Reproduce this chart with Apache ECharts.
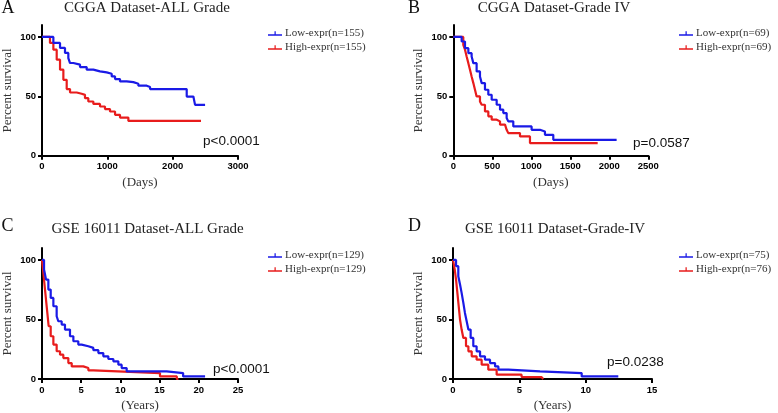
<!DOCTYPE html>
<html><head><meta charset="utf-8">
<script src="https://cdn.jsdelivr.net/npm/echarts@6/dist/echarts.min.js"></script>
<style>html,body{margin:0;padding:0;background:#fff}#c{width:778px;height:413px}</style>
</head><body><div id="c"></div>
<script>
// Panel A: CGGA ALL grade (days)
const aLowT  = [0,174,276,352,403,429,480,582,684,786,888,990,1067,1118,1194,1296,1398,1475,1603,1654,2215,2317,2343,2496];
const aLowS  = [100,94.9,90.7,86.5,82.2,78,76.6,74.6,72.4,71,70.1,69,66.7,64.5,62.5,61.9,60.6,58.9,57.8,56.1,49.8,48.4,42.8,42.8];
const aHighT = [0,122,174,225,276,327,378,429,531,607,658,709,786,888,964,1041,1118,1194,1322,2434];
const aHighS = [100,94.9,89.2,80.8,72.4,63.9,56.1,53.2,52.1,51.2,48.4,45.6,43.6,41.4,39.2,37.2,34.4,32.1,29.3,29.3];
// Panel B: CGGA grade IV (days)
const bLowT  = [0,107,150,193,235,257,299,342,364,406,449,492,556,599,641,684,705,769,1004,1111,1175,1282,2094];
const bLowS  = [100,96.1,90.5,86.3,83.5,77.9,70.9,66.7,61.1,55.5,51.3,47.1,42.9,38.7,35.9,31.7,28.9,24.6,21.8,20.4,17.6,13.4,13.4];
const bHighT = [0,128,150,171,193,214,235,257,278,299,342,364,406,449,492,556,599,663,684,705,855,983,1851];
const bHighS = [100,93.3,89.2,83.5,77.9,72.3,66.7,61.1,55.5,49.9,45.7,42.9,37.3,33.1,30.3,28.9,26.1,24.6,21.8,19.0,16.2,10.6,10.6];
// Panel C: GSE16011 ALL grade (years)
const cLowT  = [0,0.26,0.51,0.81,1.11,1.45,1.87,2.08,2.51,2.93,3.57,4.0,4.63,5.06,5.91,6.55,7.19,7.82,8.46,9.1,9.74,10.16,10.8,15.9,18.0,20.8];
const cLowS  = [100,91.9,83.5,75.1,68.1,61.1,52.7,48.5,45.7,41.5,35.9,31.7,28.9,27.5,26.1,24.2,21.8,19.0,16.8,14.8,12.0,9.2,6.4,5.0,2.2,2.2];
const cHighT = [0,0.17,0.34,0.51,0.68,0.85,1.11,1.45,1.87,2.3,2.72,3.36,3.79,5.27,5.91,6.55,11.2,15.05,17.2,17.4];
const cHighS = [100,89.1,77.9,66.7,55.5,44.3,35.9,28.9,23.3,20.4,17.6,13.4,10.6,9.2,7.3,5.9,5.0,2.2,0,0];
// Panel D: GSE16011 grade IV (years)
const dLowT  = [0,0.23,0.40,0.53,0.65,0.78,0.9,1.03,1.16,1.33,1.53,1.78,2.04,2.41,2.79,3.17,3.42,4.17,6.56,9.7,12.46];
const dLowS  = [100,94.7,86.3,79.3,72.3,63.9,55.5,48.5,41.5,34.5,27.5,23.2,19.0,16.2,13.4,10.6,7.8,6.4,5.0,2.2,2.2];
const dHighT = [0,0.13,0.23,0.33,0.43,0.53,0.65,0.78,0.98,1.16,1.41,1.78,2.16,2.66,3.29,5.17,6.68,6.8];
const dHighS = [100,91.9,83.5,72.3,61.1,49.9,41.5,34.5,27.5,23.2,19.0,16.2,12.0,7.8,3.6,1.6,0,0];

const titles = ['CGGA Dataset-ALL Grade','CGGA Dataset-Grade IV','GSE 16011 Dataset-ALL Grade','GSE 16011 Dataset-Grade-IV'];
const letters = ['A','B','C','D'];
const pValues = ['p<0.0001','p=0.0587','p<0.0001','p=0.0238'];
const lowNames = ['Low-expr(n=155)','Low-expr(n=69)','Low-expr(n=129)','Low-expr(n=75)'];
const highNames = ['High-expr(n=155)','High-expr(n=69)','High-expr(n=129)','High-expr(n=76)'];
const xNames = ['(Days)','(Days)','(Years)','(Years)'];
const xMax = [3000,2500,25,15];
const xInterval = [1000,500,5,5];
const yTicks = [0,50,100];

const lowT = [aLowT,bLowT,cLowT,dLowT], lowS=[aLowS,bLowS,cLowS,dLowS];
const highT = [aHighT,bHighT,cHighT,dHighT], highS=[aHighS,bHighS,cHighS,dHighS];

const BLUE='#1a1ae6', RED='#e81c1c';
const SERIF='Liberation Serif', SANS='Liberation Sans';

const grids=[
  {left:42,top:25,width:196,height:130.7},
  {left:453.3,top:25,width:195,height:130.7},
  {left:42,top:248,width:196,height:131},
  {left:453,top:248,width:199,height:131}
];
const legendPos=[{left:268,top:28},{left:679,top:28},{left:268,top:250},{left:679,top:250}];
const titlePos=[[147,8],[554,8],[147.6,229],[555,229]];
const letterPos=[[1.5,8],[408,8],[1.5,226],[408,226]];
const pPos=[[203,141.5],[633,143.5],[213,369],[607,362.5]];

const zip=(t,s)=>t.map((v,i)=>[v,s[i]]);
const series=[], xAxis=[], yAxis=[], legend=[], graphic=[];
for(let i=0;i<4;i++){
  xAxis.push({type:'value',gridIndex:i,min:0,max:xMax[i],interval:xInterval[i],
    axisLine:{onZero:false,lineStyle:{color:'#000',width:2}},
    axisTick:{length:4,lineStyle:{color:'#000',width:2}},
    axisLabel:{color:'#000',fontWeight:'bold',fontSize:9.5,fontFamily:SANS,margin:6,formatter:v=>String(v)},
    splitLine:{show:false},
    name:xNames[i],nameLocation:'middle',nameGap:20,
    nameTextStyle:{fontFamily:SERIF,fontSize:13,color:'#333'}});
  yAxis.push({type:'value',gridIndex:i,min:0,max:110,interval:50,
    axisLine:{show:true,lineStyle:{color:'#000',width:2}},
    axisTick:{show:true,length:4,customValues:yTicks,lineStyle:{color:'#000',width:2}},
    axisLabel:{customValues:yTicks,color:'#000',fontWeight:'bold',fontSize:9.5,fontFamily:SANS,margin:6,formatter:v=>String(v)},
    splitLine:{show:false},
    name:'Percent survival',nameLocation:'middle',nameGap:28,
    nameTextStyle:{fontFamily:SERIF,fontSize:13,color:'#333'}});
  series.push({type:'line',name:lowNames[i],xAxisIndex:i,yAxisIndex:i,step:'end',showSymbol:false,
    data:zip(lowT[i],lowS[i]),lineStyle:{color:BLUE,width:2.2},itemStyle:{color:BLUE},z:3});
  series.push({type:'line',name:highNames[i],xAxisIndex:i,yAxisIndex:i,step:'end',showSymbol:false,
    data:zip(highT[i],highS[i]),lineStyle:{color:RED,width:2.2},itemStyle:{color:RED},z:2});
  legend.push({data:[lowNames[i],highNames[i]],orient:'vertical',left:legendPos[i].left,top:legendPos[i].top,
    itemGap:3,itemWidth:14,itemHeight:4.5,icon:'path://M0,6h28v3h-28zM13,0h2.5v6h-2.5z',
    padding:0,selectedMode:false,
    textStyle:{fontFamily:SERIF,fontSize:11,color:'#333',padding:[0,0,0,-2]}});
  graphic.push({type:'text',x:titlePos[i][0],y:titlePos[i][1],
    style:{text:titles[i],fill:'#222',font:'15px "Liberation Serif"',textAlign:'center',textVerticalAlign:'middle'}});
  graphic.push({type:'text',x:letterPos[i][0],y:letterPos[i][1],
    style:{text:letters[i],fill:'#111',font:'18px "Liberation Serif"',textAlign:'left',textVerticalAlign:'middle'}});
  graphic.push({type:'text',x:pPos[i][0],y:pPos[i][1],
    style:{text:pValues[i],fill:'#111',font:'13.5px "Liberation Sans"',textAlign:'left',textVerticalAlign:'middle'}});
}
const chart=echarts.init(document.getElementById('c'),null,{renderer:'canvas'});
chart.setOption({animation:false,backgroundColor:'#fff',grid:grids,xAxis,yAxis,series,legend,graphic});
</script></body></html>
